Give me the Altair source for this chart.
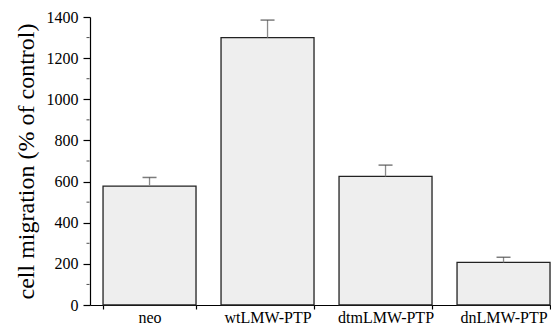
import altair as alt
import pandas as pd

groups = ["neo", "wtLMW-PTP", "dtmLMW-PTP", "dnLMW-PTP"]
migration = [578, 1300, 625, 207]
err_top = [620, 1385, 680, 232]
major_ticks = [0, 200, 400, 600, 800, 1000, 1200, 1400]
minor_ticks = [100, 300, 500, 700, 900, 1100, 1300]

df = pd.DataFrame({"group": groups, "value": migration, "err": err_top})
minor_df = pd.DataFrame({"m": minor_ticks})

FONT = "Liberation Serif"

xscale = alt.Scale(domain=groups, paddingInner=0.212, paddingOuter=0.0594, align=0.93)
yscale = alt.Scale(domain=[0, 1400], nice=False)

xaxis = alt.Axis(title=None, labelAngle=0, tickBand="extent", tickSize=4,
                 labelPadding=0, grid=False)
yaxis = alt.Axis(title="cell migration (% of control)", values=major_ticks,
                 format="d", tickSize=7, grid=False, labelPadding=5,
                 titlePadding=8)

bars = alt.Chart(df).mark_bar(
    fill="#eeeeee", stroke="#222222", strokeWidth=1.3
).encode(
    x=alt.X("group:N", sort=groups, scale=xscale, axis=xaxis),
    y=alt.Y("value:Q", scale=yscale, axis=yaxis),
)

stems = alt.Chart(df).mark_rule(color="#8a8a8a", strokeWidth=1.3).encode(
    x=alt.X("group:N", sort=groups, scale=xscale, axis=xaxis),
    y=alt.Y("value:Q", scale=yscale, axis=yaxis),
    y2="err:Q",
)

caps = alt.Chart(df).mark_tick(
    color="#444444", size=14, thickness=1.5, orient="horizontal"
).encode(
    x=alt.X("group:N", sort=groups, scale=xscale, axis=xaxis),
    y=alt.Y("err:Q", scale=yscale, axis=yaxis),
)

minor = alt.Chart(minor_df).mark_tick(
    color="black", size=3, thickness=1, orient="horizontal"
).encode(
    x=alt.value(-2),
    y=alt.Y("m:Q", scale=yscale, axis=yaxis),
)

chart = (
    alt.layer(bars, stems, caps, minor)
    .properties(
        width=461, height=288,
        background="white",
        autosize=alt.AutoSizeParams(type="none"),
        padding={"left": 82, "top": 9, "right": 0, "bottom": 22},
    )
    .configure_view(stroke=None)
    .configure_axis(
        labelFont=FONT, labelFontSize=16, labelColor="black",
        titleFont=FONT, titleFontSize=24, titleFontWeight="normal",
        titleColor="black", domainColor="black", tickColor="black",
        domainWidth=1.2, tickWidth=1.2, grid=False,
    )
    .configure_axisX(labelFontSize=16)
)

chart.save("out.html", embed_options={"renderer": "svg", "actions": False})
